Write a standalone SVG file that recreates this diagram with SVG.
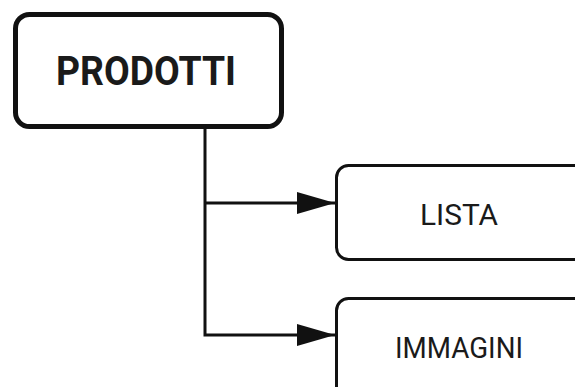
<svg xmlns="http://www.w3.org/2000/svg" width="575" height="387" viewBox="0 0 575 387">
<style>
.box{fill:#fff;stroke:#111;}
.lbl{font-family:Roboto,"Liberation Sans",sans-serif;fill:#1a1a1a;text-anchor:middle;}
.conn{fill:none;stroke:#111;stroke-width:3;}
</style>
<defs>
<marker id="arr" markerUnits="userSpaceOnUse" markerWidth="40" markerHeight="24" refX="38" refY="11" orient="auto">
<path d="M0,0 L38,11 L0,22 Z" fill="#111"/>
</marker>
</defs>
<rect width="575" height="387" fill="#fff"/>
<g id="connectors">
<path class="conn" d="M205,126 V335 H335" marker-end="url(#arr)"/>
<path class="conn" d="M205,203 H335" marker-end="url(#arr)"/>
</g>
<g id="prodotti">
<rect class="box" x="15.5" y="14.5" width="266" height="112" rx="14" stroke-width="5"/>
<text class="lbl" x="146" y="85" font-size="41" font-weight="bold" textLength="180" lengthAdjust="spacingAndGlyphs">PRODOTTI</text>
</g>
<g id="lista">
<rect class="box" x="336.5" y="165.5" width="250" height="94" rx="12" stroke-width="3"/>
<text class="lbl" x="459" y="225" font-size="30" textLength="78" lengthAdjust="spacingAndGlyphs">LISTA</text>
</g>
<g id="immagini">
<rect class="box" x="336.5" y="298.5" width="250" height="110" rx="12" stroke-width="3"/>
<text class="lbl" x="459" y="358" font-size="30" textLength="128" lengthAdjust="spacingAndGlyphs">IMMAGINI</text>
</g>
</svg>
